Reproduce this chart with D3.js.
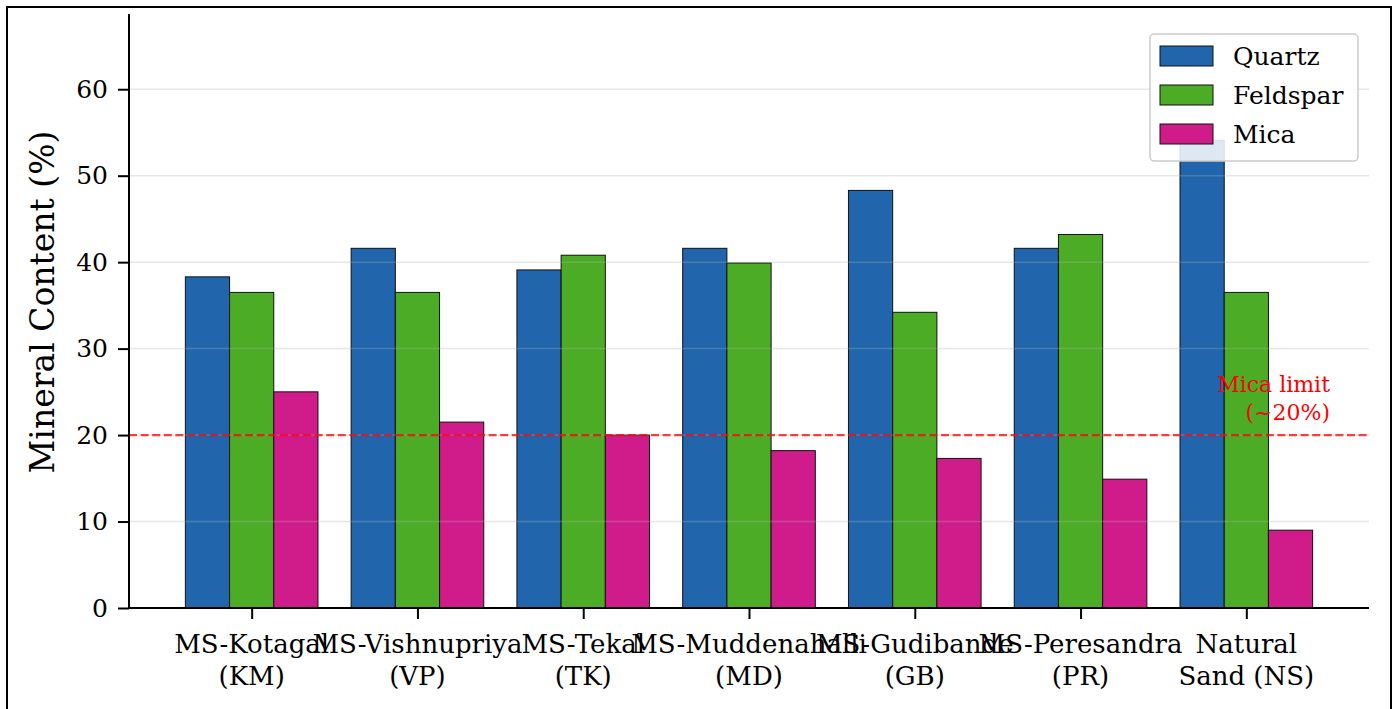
<!DOCTYPE html>
<html lang="en">
<head>
  <meta charset="UTF-8">
  <title>Mineral Content by Sand Type</title>
  <script src="https://d3js.org/d3.v7.min.js"></script>
  <style>
    body { margin: 0; background: #fff; overflow: hidden; }
    svg { display: block; font-family: "DejaVu Serif", serif; }
  </style>
</head>
<body>
  <svg width="1398" height="709"></svg>
  <script>
  // Data
  const categories = ["MS-Kotagal\n(KM)", "MS-Vishnupriya\n(VP)", "MS-Tekal\n(TK)",
                      "MS-Muddenahalli\n(MD)", "MS-Gudibande\n(GB)", "MS-Peresandra\n(PR)",
                      "Natural\nSand (NS)"];
  const seriesNames = ["Quartz", "Feldspar", "Mica"];
  const quartz   = [38.3, 41.6, 39.1, 41.6, 48.3, 41.6, 54.1];
  const feldspar = [36.5, 36.5, 40.8, 39.9, 34.2, 43.2, 36.5];
  const mica     = [25.0, 21.5, 20.0, 18.2, 17.3, 14.9, 9.0];
  const yTicks = [0, 10, 20, 30, 40, 50, 60];
  const micaLimit = 20;
  const colors = ["#2166ac", "#4dac26", "#d01c8b"];

  const series = [quartz, feldspar, mica];

  const svg = d3.select("svg");

  // figure border
  svg.append("rect")
     .attr("x", 7).attr("y", 7)
     .attr("width", 1384).attr("height", 712)
     .attr("fill", "none").attr("stroke", "#000").attr("stroke-width", 2);

  const plotLeft = 129, plotRight = 1369, plotTop = 14, plotBottom = 608;
  const n = categories.length;
  const barW = 0.8 / 3;

  const x = d3.scaleLinear().domain([-0.74, n - 1 + 0.74]).range([plotLeft, plotRight]);
  const y = d3.scaleLinear().domain([0, 68.7]).range([plotBottom, plotTop]);

  // bars
  series.forEach((vals, s) => {
    svg.append("g").selectAll("rect")
       .data(vals)
       .join("rect")
       .attr("x", (d, i) => x(i - 0.4 + s * barW))
       .attr("width", x(barW) - x(0))
       .attr("y", d => y(d))
       .attr("height", d => y(0) - y(d))
       .attr("fill", colors[s])
       .attr("stroke", "#111")
       .attr("stroke-width", 1);
  });

  // grid (drawn over bars, faint)
  svg.append("g").selectAll("line")
     .data(yTicks)
     .join("line")
     .attr("x1", plotLeft).attr("x2", plotRight)
     .attr("y1", d => y(d)).attr("y2", d => y(d))
     .attr("stroke", "#b0b0b0").attr("stroke-opacity", 0.3).attr("stroke-width", 1.5);

  // mica limit line
  svg.append("line")
     .attr("x1", plotLeft).attr("x2", plotRight)
     .attr("y1", y(micaLimit)).attr("y2", y(micaLimit))
     .attr("stroke", "red").attr("stroke-opacity", 0.75)
     .attr("stroke-width", 2.2).attr("stroke-dasharray", "8,3.6");

  const limitText = svg.append("text")
     .attr("text-anchor", "end")
     .attr("fill", "red")
     .style("font-size", "22px");
  limitText.append("tspan").attr("x", 1330).attr("y", 392).text("Mica limit");
  limitText.append("tspan").attr("x", 1330).attr("y", 420).text("(~20%)");

  // y axis
  const yAxis = svg.append("g")
     .attr("transform", `translate(${plotLeft},0)`)
     .call(d3.axisLeft(y).tickValues(yTicks).tickSize(11).tickPadding(10));
  yAxis.select(".domain").attr("d", `M0,${plotTop}V${plotBottom}`).attr("stroke-width", 2);
  yAxis.selectAll(".tick line").attr("stroke-width", 2);
  yAxis.selectAll(".tick text").style("font-size", "25px").style("font-family", "DejaVu Serif");

  // x axis
  const xAxis = svg.append("g")
     .attr("transform", `translate(0,${plotBottom})`)
     .call(d3.axisBottom(x).tickValues(d3.range(n)).tickSize(11).tickFormat(""));
  xAxis.select(".domain").attr("d", `M${plotLeft},0H${plotRight}`).attr("stroke-width", 2);
  xAxis.selectAll(".tick line").attr("stroke-width", 2);

  svg.append("g").selectAll("text")
     .data(categories)
     .join("text")
     .attr("text-anchor", "middle")
     .style("font-size", "26px")
     .each(function(d, i) {
       const t = d3.select(this);
       d.split("\n").forEach((line, k) => {
         t.append("tspan").attr("x", x(i)).attr("y", 653 + k * 32).text(line);
       });
     });

  // y label
  svg.append("text")
     .attr("transform", `translate(54,302) rotate(-90)`)
     .attr("text-anchor", "middle")
     .style("font-size", "33px")
     .text("Mineral Content (%)");

  // legend
  const lg = svg.append("g");
  lg.append("rect")
    .attr("x", 1150).attr("y", 34).attr("width", 208).attr("height", 127)
    .attr("rx", 4)
    .attr("fill", "#fff").attr("fill-opacity", 0.85)
    .attr("stroke", "#cccccc").attr("stroke-width", 1.5);
  seriesNames.forEach((name, s) => {
    const cy = 56 + s * 39;
    lg.append("rect")
      .attr("x", 1160).attr("y", cy - 10).attr("width", 53).attr("height", 20)
      .attr("fill", colors[s]).attr("stroke", "#111").attr("stroke-width", 1);
    lg.append("text")
      .attr("x", 1233).attr("y", cy + 9)
      .style("font-size", "25px")
      .text(name);
  });
  </script>
</body>
</html>
